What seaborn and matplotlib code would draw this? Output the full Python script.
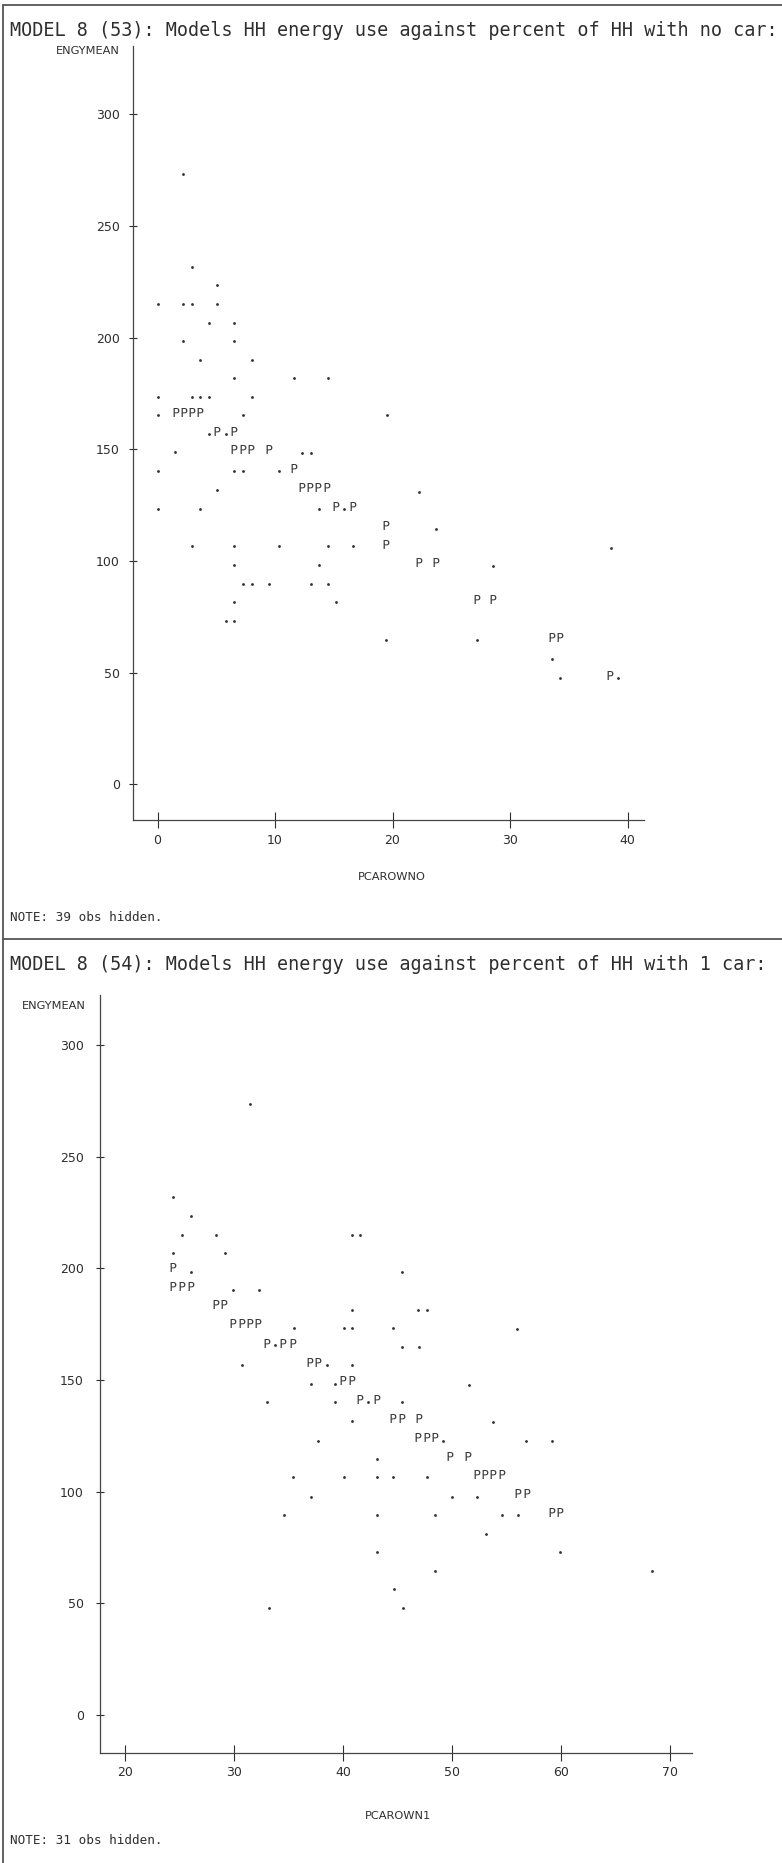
import matplotlib
matplotlib.use("Agg")
import matplotlib.pyplot as plt
from matplotlib.lines import Line2D
import pandas as pd
import seaborn as sns

# ---------------- data ----------------
# Panel 1: ENGYMEAN vs PCAROWNO
top_obs_x = [2.2, 2.94, 5.09, 0.07, 2.2, 2.94, 5.09, 4.38, 6.54, 2.2, 6.54,
             3.64, 8.04, 6.54, 11.64, 14.48, 0.07, 2.94, 3.64, 4.38, 8.04,
             0.07, 7.25, 19.5, 4.38, 5.8, 1.46, 12.33, 13.04,
             0.07, 6.54, 7.25, 10.31, 5.09, 22.28,
             0.07, 3.64, 13.74, 15.9, 23.7,
             2.91, 6.54, 10.31, 14.48, 16.66, 38.57,
             6.54, 13.74, 28.58, 7.25, 8.02, 9.52, 13.04, 14.48,
             6.54, 15.19, 5.8, 6.54, 19.45, 27.22, 33.6, 34.28, 39.22]
top_obs_y = [273.4, 231.7, 223.4, 215.2, 215.2, 215.2, 215.2, 206.7, 206.7, 198.5, 198.5,
             190.1, 190.1, 181.8, 181.8, 181.8, 173.6, 173.6, 173.6, 173.6, 173.6,
             165.2, 165.2, 165.2, 156.9, 156.9, 148.6, 148.2, 148.2,
             140.1, 140.1, 140.1, 140.1, 131.6, 131.0,
             123.3, 123.3, 123.3, 123.3, 114.3,
             106.6, 106.6, 106.6, 106.6, 106.6, 105.7,
             98.2, 98.2, 97.8, 89.8, 89.8, 89.8, 89.8, 89.8,
             81.6, 81.6, 73.3, 73.3, 64.6, 64.6, 56.0, 47.8, 47.8]
top_pred_x = [1.57, 2.28, 2.96, 3.64, 5.04, 6.51, 6.54, 7.25, 7.96, 9.52,
              11.59, 12.27, 12.98, 13.69, 14.45, 15.19, 16.61, 19.42, 19.42,
              22.28, 23.7, 27.16, 28.58, 33.55, 34.26, 38.51]
top_pred_y = [166.7, 166.7, 166.7, 166.7, 158.3, 158.3, 150.0, 150.0, 150.0, 150.0,
              141.5, 133.3, 133.3, 133.3, 133.3, 124.6, 124.6, 116.1, 107.7,
              99.4, 99.4, 82.9, 82.9, 65.8, 65.8, 49.0]

# Panel 2: ENGYMEAN vs PCAROWN1
bot_obs_x = [31.51, 24.44, 26.03, 25.23, 28.33, 40.82, 41.61, 24.44, 29.15,
             26.03, 45.44, 29.95, 32.28, 40.85, 46.94, 47.7,
             35.52, 40.08, 40.85, 44.64, 56.02, 33.77, 45.44, 47.0,
             30.74, 38.52, 40.85, 37.05, 39.28, 51.59,
             33.01, 39.28, 42.35, 45.44, 40.85, 53.82,
             37.75, 49.23, 56.86, 59.18, 43.14,
             35.46, 40.08, 43.14, 44.64, 47.76, 37.05, 50.06, 52.35,
             34.63, 43.14, 48.5, 54.65, 56.12, 53.12, 43.14, 59.94,
             48.5, 68.37, 44.7, 33.18, 45.53]
bot_obs_y = [273.4, 231.9, 223.5, 215.0, 215.0, 215.0, 215.0, 206.8, 206.8,
             198.4, 198.4, 190.1, 190.1, 181.3, 181.3, 181.3,
             173.1, 173.1, 173.1, 173.1, 172.6, 165.6, 164.6, 164.6,
             156.6, 156.6, 156.6, 148.3, 148.3, 147.7,
             140.1, 140.1, 140.1, 140.1, 131.4, 131.0,
             122.8, 122.8, 122.8, 122.8, 114.6,
             106.4, 106.4, 106.4, 106.4, 106.4, 97.7, 97.7, 97.7,
             89.4, 89.4, 89.4, 89.4, 89.4, 81.0, 72.9, 72.9,
             64.6, 64.6, 56.3, 48.0, 48.0]
bot_pred_x = [24.44, 24.44, 25.23, 26.03, 28.33, 29.09, 29.95, 30.71, 31.48, 32.24,
              33.01, 34.54, 35.4, 36.99, 37.75, 40.05, 40.82, 41.58, 43.11,
              44.64, 45.41, 47.0, 46.94, 47.7, 48.47, 49.84, 51.52,
              52.3, 53.06, 53.82, 54.59, 56.1, 56.88, 59.18, 59.94]
bot_pred_y = [200.7, 192.2, 192.2, 192.2, 183.8, 183.8, 175.3, 175.3, 175.3, 175.3,
              166.7, 166.7, 166.7, 158.2, 158.2, 149.8, 149.8, 141.5, 141.5,
              133.1, 133.1, 133.1, 124.6, 124.6, 124.6, 116.1, 116.1,
              107.9, 107.9, 107.9, 107.9, 99.5, 99.5, 91.0, 91.0]

top_xticks = [0, 10, 20, 30, 40]
bot_xticks = [20, 30, 40, 50, 60, 70]
yticks = [0, 50, 100, 150, 200, 250, 300]

titles = ["MODEL 8 (53): Models HH energy use against percent of HH with no car:",
          "MODEL 8 (54): Models HH energy use against percent of HH with 1 car:"]
notes = ["NOTE: 39 obs hidden.", "NOTE: 31 obs hidden."]
xlabels = ["PCAROWNO", "PCAROWN1"]
ylabel = "ENGYMEAN"

# ---------------- drawing ----------------
sns.set_style("white")
plt.rcParams["font.family"] = ["DejaVu Sans"]

INK = "#2e2e2e"
W, H = 782, 1863
fig = plt.figure(figsize=(W / 100, H / 100), dpi=100)
fig.patch.set_facecolor("white")


def fx(x):
    return x / W


def fy(y):
    return 1 - y / H


def panel(l, t, r, b, xlim, ylim, xticks, ox, oy, px, py, ypad, xpad):
    ax = fig.add_axes([fx(l), fy(b), fx(r) - fx(l), fy(t) - fy(b)])
    obs = pd.DataFrame({"x": ox, "y": oy})
    pred = pd.DataFrame({"x": px, "y": py})
    sns.scatterplot(data=obs, x="x", y="y", ax=ax, marker="o", s=4,
                    color=INK, linewidth=0, legend=False)
    sns.scatterplot(data=pred, x="x", y="y", ax=ax, marker="$\\mathsf{P}$", s=42,
                    color="#3a3a3a", linewidth=0, legend=False)
    ax.set_xlim(*xlim)
    ax.set_ylim(*ylim)
    ax.set_xticks(xticks)
    ax.set_yticks(yticks)
    ax.set_xlabel("")
    ax.set_ylabel("")
    for s in ("top", "right"):
        ax.spines[s].set_visible(False)
    for s in ("left", "bottom"):
        ax.spines[s].set_color("#444444")
        ax.spines[s].set_linewidth(0.9)
    ax.tick_params(axis="x", bottom=True, direction="inout", length=11, width=0.8,
                   pad=xpad, labelsize=9, colors=INK)
    ax.tick_params(axis="y", left=True, direction="inout", length=5.8, width=0.8,
                   pad=ypad, labelsize=9, colors=INK)
    ax.set_facecolor("none")
    return ax


# top panel: axes box in pixel coordinates
x_right_top = 644.0
panel(132.5, 46, x_right_top, 820, (-2.13, -2.13 + (x_right_top - 132.5) / 11.75),
      (-15.94, 330.5), top_xticks,
      top_obs_x, top_obs_y, top_pred_x, top_pred_y, ypad=6.1, xpad=4.5)
# bottom panel
panel(100, 995, 691.5, 1752.7, (17.70, 72.02), (-16.9, 322.3), bot_xticks,
      bot_obs_x, bot_obs_y, bot_pred_x, bot_pred_y, ypad=8.6, xpad=4.3)

mono = "DejaVu Sans Mono"
fig.text(fx(10), fy(31), titles[0], family=mono, fontsize=13.35, color=INK,
         ha="left", va="center")
fig.text(fx(10), fy(965), titles[1], family=mono, fontsize=13.35, color=INK,
         ha="left", va="center")
fig.text(fx(120), fy(51), ylabel, fontsize=8.2, color=INK, ha="right", va="center")
fig.text(fx(86), fy(1006), ylabel, fontsize=8.2, color=INK, ha="right", va="center")
fig.text(fx(392), fy(876.5), xlabels[0], fontsize=8.2, color=INK, ha="center", va="center")
fig.text(fx(398), fy(1816), xlabels[1], fontsize=8.2, color=INK, ha="center", va="center")
fig.text(fx(10), fy(918), notes[0], family=mono, fontsize=9.1, color=INK,
         ha="left", va="center")
fig.text(fx(10), fy(1840), notes[1], family=mono, fontsize=9.1, color=INK,
         ha="left", va="center")

# page frame lines
lc = "#555555"
fig.add_artist(Line2D([fx(3), fx(3)], [fy(5), fy(1863)], transform=fig.transFigure,
                      color=lc, linewidth=1.3))
fig.add_artist(Line2D([fx(3), fx(782)], [fy(5), fy(5)], transform=fig.transFigure,
                      color=lc, linewidth=1.3))
fig.add_artist(Line2D([fx(3), fx(782)], [fy(939), fy(939)], transform=fig.transFigure,
                      color=lc, linewidth=1.3))

fig.savefig("out.png", dpi=100, facecolor="white")
